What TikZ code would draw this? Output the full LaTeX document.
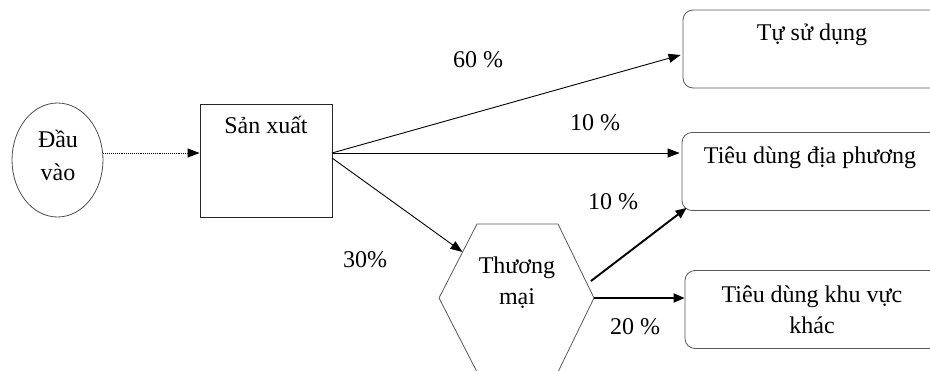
\documentclass[tikz,border=0pt]{standalone}
\usepackage{fontspec}
\setmainfont{Liberation Serif}
\usetikzlibrary{arrows.meta,calc,shapes.geometric}
\begin{document}
\begin{tikzpicture}[x=1pt,y=-1pt,
  every node/.style={font=\rmfamily\fontsize{24}{31}\selectfont, inner sep=0pt},
  arr/.style={line width=0.9pt,-{Triangle[length=12pt,width=9pt]}},
  dotarr/.style={line width=0.9pt,densely dotted,-{Triangle[length=12pt,width=9pt]}},
  thickarr/.style={line width=1.9pt,-{Triangle[length=11pt,width=9pt]}},
  rbox/.style={draw=black!65,line width=0.8pt,rounded corners=10pt,minimum width=258pt,minimum height=78pt},
  sqbox/.style={draw=black!85,line width=0.9pt,minimum width=132pt,minimum height=113pt},
  oval/.style={draw=black!70,line width=0.8pt,ellipse,minimum width=91pt,minimum height=114pt},
  hexline/.style={draw=black!65,line width=0.8pt,line join=miter},
  lbl/.style={}
]
\clip (0,0) rectangle (930,371);
% nodes
\node[oval] (in) at (57.5,160) {};
\node[align=center] (intxt) at (58,155) {Đầu\\[2pt]vào};
\node[sqbox] (sx) at (266,160.5) {};
\node (sxt) at (266,125) {Sản xuất};
\node[rbox] (use) at (812,49) {};
\node (usetxt) at (812,35) {Tự sử dụng};
\node[rbox] (loc) at (811,171.5) {};
\node (loctxt) at (810,158) {Tiêu dùng địa phương};
\node[rbox] (oth) at (814,309.5) {};
\node[align=center] (othtxt) at (812,310) {Tiêu dùng khu vực\\khác};
% hexagon
\coordinate (h1) at (477,224);
\coordinate (h2) at (558,224);
\coordinate (h3) at (594,298);
\coordinate (h4) at (558,372);
\coordinate (h5) at (477,372);
\coordinate (h6) at (439,298);
\draw[hexline] (h1) -- (h2) -- (h3) -- (h4) -- (h5) -- (h6) -- cycle;
\node[align=center] (trade) at (517,283) {Thương\\mại};
% connector points
\coordinate (sxo) at (332,153);
\coordinate (sxo2) at (332,158);
\coordinate (hexin) at (462.5,252);
\coordinate (hexout) at (591,281);
% connectors
\draw[dotarr] ($(in.east)+(0,-7)$) -- ($(sx.west)+(0,-7.5)$);
\draw[arr] (sxo) -- ($(use.west)+(-2,6)$);
\draw[arr] (sxo) -- ($(loc.west)+(-2,-18.5)$);
\draw[arr] (sxo2) -- (hexin);
\draw[thickarr] (hexout) -- ($(loc.south west)+(5,-3)$);
\draw[thickarr] (h3) -- (h3 -| oth.west);
% labels
\node[lbl] (p60) at (478,60) {60 \%};
\node[lbl] (p10a) at (595,123) {10 \%};
\node[lbl] (p10b) at (613,202) {10 \%};
\node[lbl] (p30) at (365,260) {30\%};
\node[lbl] (p20) at (635,327) {20 \%};
\end{tikzpicture}
\end{document}
